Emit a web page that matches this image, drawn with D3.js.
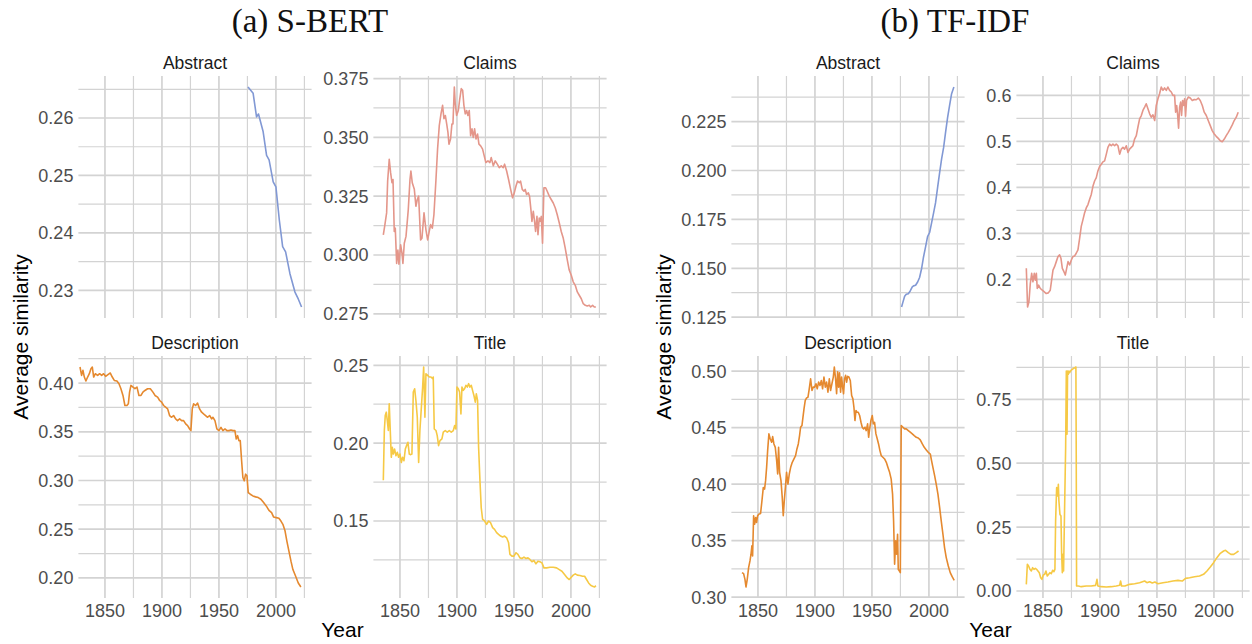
<!DOCTYPE html>
<html>
<head>
<meta charset="utf-8">
<script src="https://cdn.jsdelivr.net/npm/d3@7"></script>
<style>
  body { margin: 0; background: #fff; }
  svg { display: block; }
</style>
</head>
<body>
<svg id="chart" width="1252" height="644"></svg>
<script>
// ---- data: [year, average similarity] ----
const sbertAbstract = [[1975.5,0.2654],[1980,0.2643],[1983,0.2602],[1984.7,0.2607],[1988.8,0.2576],[1991.8,0.2535],[1994,0.2527],[1997.6,0.2489],[2000,0.248],[2003,0.2422],[2005.9,0.2376],[2008.5,0.2367],[2012.3,0.2329],[2016.7,0.2297],[2019.6,0.2285],[2022.5,0.2271]];

const sbertClaims = [[1835.4,0.3086],[1836.8,0.3129],[1838.3,0.3179],[1839.2,0.3314],[1840.6,0.3407],[1841.8,0.335],[1843,0.3307],[1843.9,0.3321],[1845,0.31],[1845.9,0.3114],[1847.1,0.2964],[1848.2,0.3021],[1849.1,0.2961],[1850.6,0.3043],[1851.8,0.3007],[1852.6,0.2964],[1853.8,0.305],[1855.3,0.3079],[1857.3,0.3193],[1858.8,0.3321],[1859.6,0.3357],[1860.8,0.3307],[1862.6,0.3279],[1864,0.3207],[1865.2,0.3236],[1866.4,0.325],[1868.1,0.3064],[1869.3,0.3071],[1871.1,0.3179],[1872.8,0.3107],[1874.3,0.3064],[1875.7,0.31],[1876.9,0.3129],[1878.4,0.3114],[1879.8,0.3171],[1881.6,0.3321],[1883,0.345],[1884.5,0.355],[1886,0.36],[1887.4,0.3636],[1888.6,0.3579],[1889.8,0.3593],[1891,0.3557],[1892.1,0.3521],[1893,0.3471],[1894.4,0.3493],[1895.6,0.3557],[1896.5,0.3557],[1897.7,0.3714],[1898.5,0.3643],[1899.7,0.3593],[1901.2,0.3614],[1902.3,0.3657],[1903.8,0.3707],[1905,0.37],[1906.1,0.3636],[1907.3,0.36],[1908.5,0.3614],[1909.6,0.3593],[1910.8,0.3614],[1912,0.3507],[1913.2,0.3536],[1914.3,0.35],[1915.5,0.3536],[1916.7,0.3493],[1918.1,0.3514],[1919.3,0.3471],[1920.8,0.3464],[1922.5,0.345],[1924.3,0.3414],[1925.4,0.3393],[1927.2,0.34],[1928.9,0.3393],[1930.1,0.3414],[1931.9,0.3379],[1933.6,0.34],[1935.4,0.3386],[1937.1,0.3371],[1938.9,0.3379],[1940.6,0.3371],[1941.8,0.3386],[1943.6,0.3357],[1945.3,0.3321],[1947.1,0.3279],[1948.8,0.3243],[1950.3,0.3264],[1951.8,0.3293],[1953.2,0.3314],[1954.7,0.3307],[1955.8,0.3314],[1957.3,0.3279],[1958.8,0.3271],[1959.9,0.3279],[1961.1,0.3257],[1962.6,0.3264],[1963.7,0.325],[1964.9,0.3193],[1965.8,0.3143],[1967,0.3186],[1968.1,0.3143],[1969,0.31],[1970.2,0.3164],[1971.1,0.3086],[1972.2,0.3157],[1973.1,0.3143],[1974,0.3164],[1975.1,0.305],[1976.3,0.3286],[1977.8,0.3286],[1979.2,0.3271],[1981,0.325],[1982.7,0.3236],[1984.5,0.3221],[1986.3,0.32],[1988,0.3171],[1989.8,0.3136],[1991.5,0.31],[1993.3,0.3071],[1995,0.3029],[1996.8,0.2979],[1998.5,0.2936],[2000.3,0.2914],[2002,0.2886],[2003.8,0.2871],[2005.6,0.2843],[2007.3,0.2829],[2009.1,0.2814],[2010.8,0.2793],[2012.6,0.2786],[2014.3,0.2783],[2016.1,0.2786],[2017.3,0.2779],[2019,0.2786],[2020.5,0.2779],[2021.9,0.2779]];

const sbertDescription = [[1828.1,0.4165],[1829.5,0.4079],[1830.7,0.4131],[1831.9,0.4062],[1833.3,0.4021],[1834.8,0.4062],[1836.3,0.4096],[1837.7,0.4148],[1838.9,0.4165],[1840.1,0.4062],[1841.5,0.4096],[1843.6,0.4079],[1845.3,0.4096],[1847.1,0.4079],[1848.8,0.4096],[1850.6,0.4069],[1852.9,0.4089],[1854.7,0.4103],[1856.4,0.4062],[1858.2,0.4027],[1860.5,0.4021],[1862.3,0.3993],[1864,0.3942],[1865.8,0.3873],[1867.5,0.377],[1869.3,0.377],[1870.5,0.3787],[1871.6,0.3907],[1872.8,0.3976],[1874.6,0.3959],[1876.3,0.3942],[1878.1,0.3959],[1879.8,0.3873],[1881.6,0.3873],[1883.3,0.3907],[1885.1,0.3924],[1887.4,0.3942],[1889.8,0.3942],[1892.1,0.3907],[1893.9,0.3873],[1896.2,0.3856],[1898,0.3821],[1899.7,0.3804],[1901.5,0.377],[1903.2,0.3753],[1905,0.3735],[1906.7,0.3667],[1908.5,0.3649],[1910.2,0.3667],[1912,0.3632],[1913.7,0.3615],[1915.5,0.3632],[1917.3,0.3615],[1919,0.3615],[1920.8,0.3581],[1922.5,0.3564],[1924.3,0.3529],[1925.4,0.3512],[1926.6,0.3735],[1927.8,0.3787],[1929.5,0.377],[1931.3,0.3794],[1933,0.3735],[1934.8,0.3701],[1936.5,0.3684],[1938.3,0.3667],[1940.1,0.3649],[1941.8,0.3667],[1943.6,0.3632],[1944.7,0.3649],[1946.5,0.3615],[1948.2,0.3529],[1950,0.3512],[1951.8,0.3546],[1953.5,0.3512],[1955.3,0.3529],[1957,0.3512],[1958.8,0.3512],[1960.5,0.3519],[1962.3,0.3512],[1964,0.3512],[1965.2,0.3426],[1966.4,0.346],[1967.5,0.3409],[1968.7,0.3409],[1969.9,0.3203],[1971,0.3031],[1972.2,0.2997],[1973.4,0.3065],[1974.6,0.3048],[1975.7,0.2876],[1977.5,0.2859],[1979.8,0.2842],[1982.2,0.2832],[1984.5,0.2825],[1986.8,0.2808],[1989.2,0.2773],[1991.5,0.2739],[1993.9,0.2694],[1996.2,0.267],[1998,0.2625],[2000.3,0.2619],[2002.6,0.2612],[2004.4,0.2584],[2006.1,0.255],[2007.9,0.2488],[2009.6,0.2378],[2011.4,0.2275],[2013.2,0.2172],[2014.9,0.2086],[2017.3,0.2017],[2019.6,0.1948],[2021.9,0.1907]];

const sbertTitle = [[1835.4,0.1762],[1836.3,0.2081],[1837.1,0.2177],[1838,0.2199],[1838.9,0.2145],[1839.8,0.2081],[1840.6,0.2253],[1841.5,0.2081],[1842.4,0.1909],[1843.3,0.1973],[1844.2,0.193],[1845.3,0.1962],[1846.5,0.1919],[1847.7,0.1941],[1848.8,0.1909],[1850,0.193],[1851.2,0.1876],[1852.3,0.1909],[1853.5,0.1887],[1854.7,0.1962],[1855.8,0.1984],[1857,0.2005],[1858.2,0.193],[1859.4,0.1926],[1860.5,0.193],[1861.7,0.2328],[1862.9,0.2349],[1864,0.2274],[1865.2,0.2167],[1866.4,0.1876],[1867.5,0.2081],[1868.7,0.222],[1869.9,0.236],[1870.8,0.2489],[1871.9,0.2167],[1872.8,0.2446],[1874.3,0.2435],[1875.7,0.2425],[1877.2,0.2425],[1878.7,0.2414],[1879.2,0.2425],[1880.1,0.2091],[1881.6,0.2081],[1882.7,0.2048],[1883.9,0.1984],[1885.1,0.2016],[1886.8,0.2027],[1888,0.207],[1889.8,0.2081],[1891.5,0.207],[1893.3,0.2081],[1895,0.207],[1896.8,0.2081],[1898,0.2113],[1899.1,0.2091],[1900,0.236],[1901.2,0.2349],[1902.3,0.2328],[1903.5,0.2188],[1904.4,0.236],[1905.6,0.2339],[1906.7,0.2349],[1907.9,0.2371],[1909.1,0.236],[1910.2,0.2382],[1911.4,0.236],[1912.6,0.2371],[1913.7,0.2339],[1914.9,0.2306],[1916.1,0.2263],[1917,0.2317],[1918.1,0.2274],[1919,0.1973],[1920.2,0.1758],[1921.3,0.1586],[1922.5,0.1511],[1924.3,0.15],[1926,0.1478],[1927.8,0.15],[1929.5,0.1489],[1931.3,0.1457],[1933,0.1446],[1934.8,0.1425],[1936.5,0.1414],[1938.3,0.1403],[1940.1,0.1397],[1941.8,0.1403],[1943.6,0.1392],[1945.3,0.136],[1946.5,0.1285],[1948.2,0.1274],[1950,0.1274],[1951.8,0.1296],[1953.5,0.1285],[1955.3,0.1263],[1957,0.1259],[1958.8,0.1268],[1960.5,0.1259],[1962.3,0.1263],[1964,0.1253],[1965.8,0.1238],[1967.5,0.1246],[1969.3,0.1225],[1971.1,0.1242],[1972.8,0.1238],[1974.6,0.1231],[1976.3,0.1199],[1978.7,0.1199],[1981.6,0.1203],[1984.5,0.1203],[1987.4,0.1199],[1989.8,0.1188],[1992.1,0.1177],[1994.4,0.1156],[1996.8,0.1134],[1998.5,0.1124],[2000.3,0.1139],[2002,0.1152],[2003.8,0.116],[2005.6,0.1152],[2007.9,0.115],[2010.2,0.1145],[2012,0.1145],[2013.7,0.1124],[2015.5,0.1102],[2017.3,0.1087],[2019,0.1081],[2020.8,0.1076],[2021.9,0.1085]];

const tfidfAbstract = [[1976,0.1302],[1977.2,0.1327],[1978.7,0.1357],[1980.1,0.1367],[1981.9,0.137],[1983.6,0.1384],[1985.4,0.1405],[1986.5,0.141],[1988.3,0.1413],[1990.1,0.143],[1991.8,0.1453],[1993.6,0.1499],[1995.3,0.1559],[1997.1,0.1611],[1998.8,0.1662],[2000.6,0.1683],[2002.3,0.1731],[2004.1,0.1783],[2005.8,0.1834],[2007.6,0.1912],[2009.4,0.1989],[2011.1,0.2058],[2012.9,0.2118],[2014.6,0.2195],[2016.4,0.2272],[2018.1,0.2332],[2019.9,0.2393],[2021.9,0.2427]];

const tfidfClaims = [[1835.4,0.2241],[1836.5,0.1401],[1837.7,0.1511],[1838.9,0.1912],[1840.1,0.2131],[1841.2,0.1949],[1842.4,0.2131],[1843.3,0.1985],[1844.2,0.2131],[1845,0.1803],[1846.2,0.1876],[1847.7,0.1803],[1849.4,0.1766],[1851.2,0.173],[1852.9,0.1693],[1854.7,0.1708],[1856.4,0.1766],[1857.6,0.1985],[1858.8,0.2204],[1860.2,0.2277],[1861.7,0.2387],[1863.2,0.2496],[1864.6,0.2533],[1865.8,0.246],[1867,0.2241],[1868.4,0.2168],[1869.6,0.2095],[1870.8,0.2241],[1872,0.2387],[1873.4,0.2314],[1874.9,0.2423],[1876.3,0.2496],[1877.8,0.2511],[1879.2,0.2569],[1880.7,0.2642],[1882.2,0.2898],[1883.6,0.3153],[1885.1,0.3299],[1886.5,0.3445],[1888,0.3555],[1889.5,0.3628],[1890.9,0.3737],[1892.4,0.3847],[1893.9,0.4029],[1895.3,0.4139],[1896.8,0.4212],[1898.2,0.4358],[1899.7,0.4453],[1901.2,0.4504],[1902.6,0.4555],[1904.1,0.4577],[1905.6,0.4723],[1907,0.4869],[1908.5,0.4942],[1910,0.4905],[1911.4,0.4942],[1912.9,0.4905],[1914.3,0.4942],[1915.8,0.4905],[1917.3,0.4723],[1918.7,0.4832],[1920.2,0.4869],[1921.6,0.4832],[1923.1,0.4905],[1924.6,0.4759],[1926,0.4832],[1927.5,0.4869],[1928.9,0.4905],[1930.4,0.5051],[1931.9,0.5124],[1933.3,0.5307],[1934.8,0.5489],[1936.3,0.5562],[1937.7,0.5672],[1939.2,0.5745],[1940.6,0.5818],[1942.1,0.5708],[1943.6,0.5599],[1945,0.5526],[1946.5,0.5577],[1948,0.5453],[1949.4,0.5781],[1950.9,0.5927],[1952.3,0.6036],[1953.8,0.6182],[1955.3,0.6109],[1956.7,0.6161],[1958.2,0.6109],[1959.6,0.6182],[1961.1,0.6109],[1962.6,0.6073],[1964,0.6],[1965.5,0.6],[1966.4,0.5635],[1967.3,0.5781],[1968.1,0.5599],[1969,0.5285],[1969.9,0.5745],[1970.8,0.5854],[1971.6,0.5562],[1972.5,0.589],[1973.4,0.5781],[1974.3,0.5927],[1975.1,0.5547],[1976,0.589],[1977.5,0.5964],[1979.2,0.5942],[1981,0.589],[1982.7,0.5912],[1984.5,0.5905],[1986.3,0.5942],[1988,0.589],[1989.8,0.5781],[1991.5,0.5635],[1993.3,0.5562],[1995,0.5453],[1996.8,0.5343],[1998.5,0.5234],[2000.3,0.5161],[2002,0.511],[2003.8,0.5066],[2005.6,0.5015],[2007.3,0.4993],[2009.1,0.5051],[2010.8,0.5124],[2012.6,0.5197],[2014.3,0.527],[2016.1,0.5358],[2017.8,0.5453],[2019.6,0.5526],[2021.3,0.5635]];

const tfidfDescription = [[1836,0.3216],[1837.4,0.3207],[1838.6,0.3157],[1839.5,0.3089],[1840.6,0.3157],[1841.8,0.326],[1843,0.332],[1843.9,0.3379],[1844.7,0.3453],[1845.3,0.3364],[1846.2,0.3719],[1847.1,0.3645],[1848,0.3704],[1848.8,0.366],[1849.7,0.3719],[1850.9,0.3734],[1852.3,0.374],[1853.5,0.3852],[1854.7,0.397],[1855.8,0.3956],[1856.7,0.403],[1857.6,0.4148],[1858.5,0.4296],[1859.6,0.4444],[1860.8,0.4399],[1862,0.437],[1862.9,0.442],[1864,0.4355],[1865.2,0.4325],[1866.4,0.4207],[1867.3,0.4089],[1868.1,0.4325],[1869,0.4104],[1870.2,0.403],[1871.3,0.3882],[1872.2,0.3719],[1873.1,0.3852],[1874.3,0.4],[1875.1,0.4104],[1876.3,0.4],[1877.5,0.4089],[1878.7,0.4148],[1880.1,0.4192],[1881.6,0.4222],[1883,0.4251],[1884.2,0.4311],[1885.4,0.4355],[1886.5,0.4429],[1887.4,0.4503],[1888.6,0.4518],[1889.5,0.4592],[1890.4,0.4666],[1891.5,0.474],[1892.7,0.4763],[1893.9,0.4769],[1895,0.4843],[1896.2,0.4932],[1897.4,0.4828],[1898.5,0.4858],[1899.7,0.4858],[1900.9,0.4888],[1902,0.4843],[1903.2,0.4902],[1904.4,0.4873],[1905.6,0.4917],[1906.7,0.4843],[1907.9,0.4947],[1909.1,0.4858],[1910.2,0.4902],[1911.4,0.4814],[1912.6,0.4932],[1913.7,0.4828],[1914.9,0.4888],[1916.1,0.4947],[1917,0.5036],[1918.1,0.4932],[1919,0.4799],[1919.9,0.4994],[1920.8,0.4858],[1921.6,0.4985],[1922.5,0.4814],[1923.4,0.4947],[1924.3,0.4858],[1925.1,0.4799],[1926,0.4932],[1926.9,0.4962],[1927.8,0.4902],[1928.7,0.4953],[1929.8,0.4947],[1931,0.4917],[1932.2,0.4784],[1933.3,0.4754],[1934.2,0.468],[1935.1,0.4562],[1936,0.4651],[1936.8,0.4636],[1938,0.4636],[1939.2,0.4607],[1940.4,0.4547],[1941.5,0.4503],[1942.7,0.4488],[1943.9,0.4503],[1945,0.4473],[1946.2,0.4533],[1947.1,0.4414],[1948,0.4488],[1949.1,0.4562],[1950.3,0.4607],[1951.2,0.4533],[1952.3,0.4547],[1953.5,0.4444],[1954.7,0.4399],[1955.8,0.4355],[1957,0.4296],[1958.2,0.4251],[1959.6,0.4237],[1961.1,0.4222],[1962.6,0.4192],[1964,0.4148],[1965.5,0.4104],[1966.9,0.4044],[1968.1,0.3911],[1969,0.3675],[1969.9,0.329],[1970.8,0.3497],[1971.6,0.3379],[1972.5,0.3556],[1973.1,0.3246],[1974,0.3231],[1974.9,0.3216],[1975.7,0.4518],[1977.2,0.4503],[1978.7,0.4488],[1980.1,0.4488],[1981.9,0.4473],[1983.6,0.4459],[1985.4,0.4444],[1987.1,0.4429],[1988.9,0.4414],[1990.6,0.4408],[1992.4,0.4391],[1994.2,0.4355],[1995.9,0.4325],[1997.7,0.4302],[1999.4,0.4281],[2001.2,0.4266],[2002.3,0.4207],[2003.5,0.4148],[2005,0.4074],[2006.4,0.4],[2007.9,0.3911],[2009.4,0.3793],[2010.8,0.3675],[2012.3,0.3556],[2013.7,0.3438],[2015.2,0.3349],[2017,0.3275],[2018.7,0.3216],[2020.5,0.3178],[2022.2,0.3148]];

const tfidfTitle = [[1835.4,0.0261],[1836.3,0.1044],[1837.4,0.0978],[1838.6,0.0848],[1839.8,0.0783],[1840.9,0.0913],[1842.1,0.0848],[1843.3,0.0887],[1844.4,0.0848],[1845.6,0.0783],[1846.8,0.0717],[1848,0.0522],[1849.1,0.0457],[1850.3,0.0626],[1851.5,0.0652],[1852.6,0.0783],[1853.8,0.0587],[1855,0.0652],[1856.1,0.0717],[1857.3,0.0678],[1858.5,0.0809],[1859.6,0.0757],[1860.5,0.0848],[1861.1,0.2739],[1862,0.4044],[1862.9,0.3718],[1863.5,0.4174],[1864,0.3522],[1864.9,0.3],[1865.8,0.2935],[1866.4,0.1435],[1867,0.0717],[1867.5,0.1435],[1868.1,0.0783],[1869,0.3261],[1869.9,0.5609],[1870.5,0.8609],[1871.1,0.6131],[1871.6,0.8609],[1872.2,0.8478],[1872.8,0.8609],[1873.4,0.8543],[1874.6,0.8635],[1875.7,0.8674],[1876.9,0.8713],[1878.1,0.8739],[1878.9,0.8765],[1879.2,0.5348],[1879.5,0.0196],[1881,0.0196],[1883.6,0.017],[1888,0.0196],[1892.4,0.0196],[1896.2,0.0222],[1897.4,0.0457],[1898.2,0.0196],[1901.2,0.017],[1905.6,0.0157],[1910,0.017],[1914.3,0.0196],[1917.3,0.0222],[1918.1,0.0391],[1919,0.0196],[1921.9,0.0196],[1926,0.0261],[1930.4,0.0287],[1934.8,0.0326],[1939.2,0.0391],[1941.2,0.0326],[1943.6,0.0365],[1945.9,0.0313],[1948.2,0.0352],[1950.9,0.0287],[1955.3,0.0326],[1959.6,0.0352],[1964,0.0391],[1968.4,0.0417],[1972.2,0.0391],[1975.1,0.0496],[1978.7,0.0522],[1983,0.0561],[1987.4,0.0587],[1990.9,0.0652],[1993.9,0.0783],[1996.8,0.0939],[1999.7,0.1109],[2002.6,0.1305],[2005.6,0.1474],[2008.5,0.1565],[2010.2,0.1591],[2012.6,0.15],[2014.9,0.1435],[2017.3,0.1435],[2019.6,0.15],[2021.6,0.1565]];

// tick values and labels
const yearTicks = [1850, 1900, 1950, 2000];
const yearMinor = [1825, 1875, 1925, 1975, 2025];
const yearExtent = [1836, 2022];

const ticksSbertAbstract = [0.23, 0.24, 0.25, 0.26];
const labelsSbertAbstract = ["0.23", "0.24", "0.25", "0.26"];
const ticksSbertClaims = [0.275, 0.300, 0.325, 0.350, 0.375];
const labelsSbertClaims = ["0.275", "0.300", "0.325", "0.350", "0.375"];
const ticksSbertDescription = [0.20, 0.25, 0.30, 0.35, 0.40];
const labelsSbertDescription = ["0.20", "0.25", "0.30", "0.35", "0.40"];
const ticksSbertTitle = [0.15, 0.20, 0.25];
const labelsSbertTitle = ["0.15", "0.20", "0.25"];
const ticksTfidfAbstract = [0.125, 0.150, 0.175, 0.200, 0.225];
const labelsTfidfAbstract = ["0.125", "0.150", "0.175", "0.200", "0.225"];
const ticksTfidfClaims = [0.2, 0.3, 0.4, 0.5, 0.6];
const labelsTfidfClaims = ["0.2", "0.3", "0.4", "0.5", "0.6"];
const ticksTfidfDescription = [0.30, 0.35, 0.40, 0.45, 0.50];
const labelsTfidfDescription = ["0.30", "0.35", "0.40", "0.45", "0.50"];
const ticksTfidfTitle = [0.00, 0.25, 0.50, 0.75];
const labelsTfidfTitle = ["0.00", "0.25", "0.50", "0.75"];

const sectionColor = {
    "Abstract": "#8198d4",
    "Claims": "#e4968a",
    "Description": "#e5892f",
    "Title": "#f6c945"
};

/**********************
***** BASIC SETUP *****
**********************/
const svg = d3.select("#chart");
const panelW = 233.2;
const panelH = 242;
const rowTop = [76, 356];
const groups = [
    {title: "(a) S-BERT", titleX: 310, colLeft: [78.4, 373.4], yTitleX: 28,
     panels: [
        {name: "Abstract", data: sbertAbstract, ticks: ticksSbertAbstract, labels: labelsSbertAbstract},
        {name: "Claims", data: sbertClaims, ticks: ticksSbertClaims, labels: labelsSbertClaims},
        {name: "Description", data: sbertDescription, ticks: ticksSbertDescription, labels: labelsSbertDescription},
        {name: "Title", data: sbertTitle, ticks: ticksSbertTitle, labels: labelsSbertTitle}
     ]},
    {title: "(b) TF-IDF", titleX: 955, colLeft: [731.4, 1016.4], yTitleX: 671,
     panels: [
        {name: "Abstract", data: tfidfAbstract, ticks: ticksTfidfAbstract, labels: labelsTfidfAbstract},
        {name: "Claims", data: tfidfClaims, ticks: ticksTfidfClaims, labels: labelsTfidfClaims},
        {name: "Description", data: tfidfDescription, ticks: ticksTfidfDescription, labels: labelsTfidfDescription},
        {name: "Title", data: tfidfTitle, ticks: ticksTfidfTitle, labels: labelsTfidfTitle}
     ]}
];

// shared x scale, ggplot-style 5% expansion
const xPad = (yearExtent[1] - yearExtent[0]) * 0.05;
const xScale = d3.scaleLinear()
    .domain([yearExtent[0] - xPad, yearExtent[1] + xPad])
    .range([0, panelW]);
const inX = v => v >= xScale.domain()[0] && v <= xScale.domain()[1];

const tickFont = "'Liberation Sans', Arial, sans-serif";
const gridColor = "#d3d3d3";

const defs = svg.append("defs");
let clipId = 0;

groups.forEach(group => {
    // sub-figure title
    svg.append("text")
        .attr("x", group.titleX)
        .attr("y", 32)
        .attr("text-anchor", "middle")
        .style("font-family", "'Liberation Serif', 'Times New Roman', serif")
        .style("font-size", "33px")
        .style("fill", "#111")
        .text(group.title);

    group.panels.forEach((p, i) => {
        const col = i % 2, row = Math.floor(i / 2);
        const left = group.colLeft[col], top = rowTop[row];

        const ext = d3.extent(p.data, d => d[1]);
        const yPad = (ext[1] - ext[0]) * 0.05;
        const yScale = d3.scaleLinear()
            .domain([ext[0] - yPad, ext[1] + yPad])
            .range([panelH, 0]);
        const inY = v => v >= yScale.domain()[0] && v <= yScale.domain()[1];

        // minor breaks halfway between majors
        const step = p.ticks[1] - p.ticks[0];
        const yMinor = d3.range(-1, p.ticks.length)
            .map(k => p.ticks[0] + (k + 0.5) * step)
            .filter(inY);

        const g = svg.append("g").attr("transform", `translate(${left},${top})`);

        // gridlines
        g.selectAll(".yMinor").data(yMinor).join("line")
            .attr("x1", 0).attr("x2", panelW)
            .attr("y1", d => yScale(d)).attr("y2", d => yScale(d))
            .style("stroke", gridColor).style("stroke-width", 1.2);
        g.selectAll(".xMinor").data(yearMinor.filter(inX)).join("line")
            .attr("y1", 0).attr("y2", panelH)
            .attr("x1", d => xScale(d)).attr("x2", d => xScale(d))
            .style("stroke", gridColor).style("stroke-width", 1.2);
        g.selectAll(".yMajor").data(p.ticks).join("line")
            .attr("x1", 0).attr("x2", panelW)
            .attr("y1", d => yScale(d)).attr("y2", d => yScale(d))
            .style("stroke", gridColor).style("stroke-width", 1.7);
        g.selectAll(".xMajor").data(yearTicks).join("line")
            .attr("y1", 0).attr("y2", panelH)
            .attr("x1", d => xScale(d)).attr("x2", d => xScale(d))
            .style("stroke", gridColor).style("stroke-width", 1.7);

        // y tick labels
        g.selectAll(".yLabel").data(p.ticks).join("text")
            .attr("x", -5)
            .attr("y", d => yScale(d))
            .attr("dy", "0.36em")
            .attr("text-anchor", "end")
            .style("font-family", tickFont)
            .style("font-size", "18px")
            .style("fill", "#4d4d4d")
            .text((d, k) => p.labels[k]);

        // x tick labels on bottom row only
        if (row === 1) {
            g.selectAll(".xLabel").data(yearTicks).join("text")
                .attr("x", d => xScale(d))
                .attr("y", panelH + 19)
                .attr("text-anchor", "middle")
                .style("font-family", tickFont)
                .style("font-size", "18px")
                .style("fill", "#4d4d4d")
                .text(d => d);
        }

        // strip label
        g.append("text")
            .attr("x", panelW / 2)
            .attr("y", -7)
            .attr("text-anchor", "middle")
            .style("font-family", tickFont)
            .style("font-size", "17.5px")
            .style("fill", "#1a1a1a")
            .text(p.name);

        // line
        const id = "clip" + (clipId++);
        defs.append("clipPath").attr("id", id)
            .append("rect").attr("width", panelW).attr("height", panelH);

        const line = d3.line()
            .x(d => xScale(d[0]))
            .y(d => yScale(d[1]));

        g.append("path")
            .datum(p.data)
            .attr("clip-path", `url(#${id})`)
            .attr("d", line)
            .style("fill", "none")
            .style("stroke", sectionColor[p.name])
            .style("stroke-width", 1.6)
            .style("stroke-linejoin", "round");
    });

    // axis titles
    const midX = (group.colLeft[0] + group.colLeft[1] + panelW) / 2;
    svg.append("text")
        .attr("x", midX)
        .attr("y", 637)
        .attr("text-anchor", "middle")
        .style("font-family", tickFont)
        .style("font-size", "21px")
        .style("fill", "#000")
        .text("Year");

    svg.append("text")
        .attr("transform", `translate(${group.yTitleX},${(rowTop[0] + rowTop[1] + panelH) / 2}) rotate(-90)`)
        .attr("text-anchor", "middle")
        .style("font-family", tickFont)
        .style("font-size", "21px")
        .style("fill", "#000")
        .text("Average similarity");
});
</script>
</body>
</html>
